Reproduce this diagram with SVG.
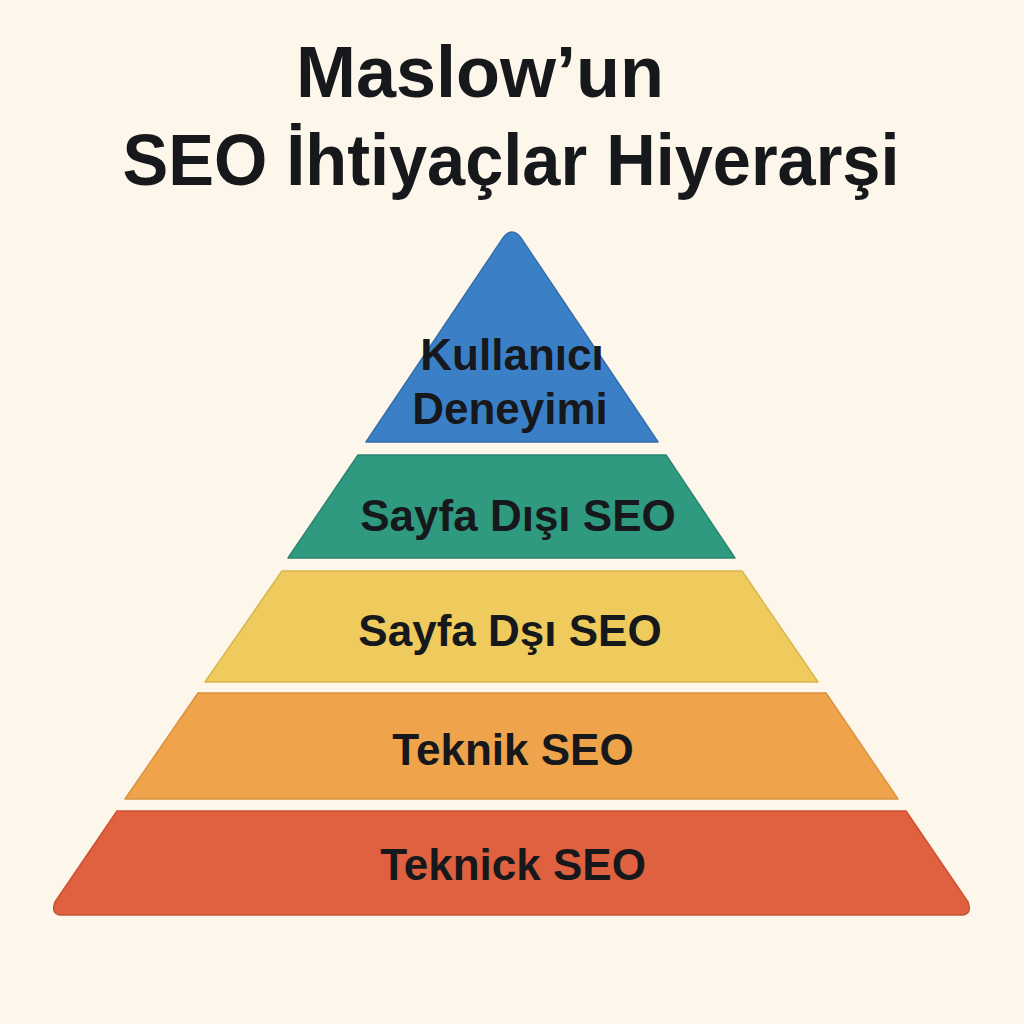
<svg xmlns="http://www.w3.org/2000/svg" width="1024" height="1024" viewBox="0 0 1024 1024">
<style>
.t{font-family:"Liberation Sans",Arial,sans-serif;font-weight:bold;fill:#16181c;text-anchor:middle}
.ttl{font-size:72px}
.lbl{font-size:44px}
.ly{stroke-width:1.5;stroke-linejoin:round}
</style>
<rect width="1024" height="1024" fill="#fdf6ea"/>
<g id="title">
<text class="t ttl" x="480" y="97">Maslow’un</text>
<text class="t ttl" x="511" y="185" textLength="777" lengthAdjust="spacingAndGlyphs">SEO İhtiyaçlar Hiyerarşi</text>
</g>
<g id="layer1">
<path class="ly" d="M503,238 Q512,226 521,238 L658,442 L366,442 Z" fill="#3b80c6" stroke="#336fae"/>
<text class="t lbl" x="512" y="370">Kullanıcı</text>
<text class="t lbl" x="510" y="424">Deneyimi</text>
</g>
<g id="layer2">
<path class="ly" d="M358,455 L666,455 L735,558 L288,558 Z" fill="#2f9a7f" stroke="#288770"/>
<text class="t lbl" x="518" y="531">Sayfa Dışı SEO</text>
</g>
<g id="layer3">
<path class="ly" d="M282,571 L742,571 L818,682 L205,682 Z" fill="#eecb5c" stroke="#d9b64c"/>
<text class="t lbl" x="510" y="646">Sayfa Dşı SEO</text>
</g>
<g id="layer4">
<path class="ly" d="M198,693 L826,693 L898,799 L125,799 Z" fill="#efa34b" stroke="#dc9140"/>
<text class="t lbl" x="513" y="765">Teknik SEO</text>
</g>
<g id="layer5">
<path class="ly" d="M117,811 L906,811 L968,902 Q973,915 960,915 L63,915 Q50,915 55,902 Z" fill="#e0613f" stroke="#cc5234"/>
<text class="t lbl" x="513" y="880">Teknick SEO</text>
</g>
</svg>
